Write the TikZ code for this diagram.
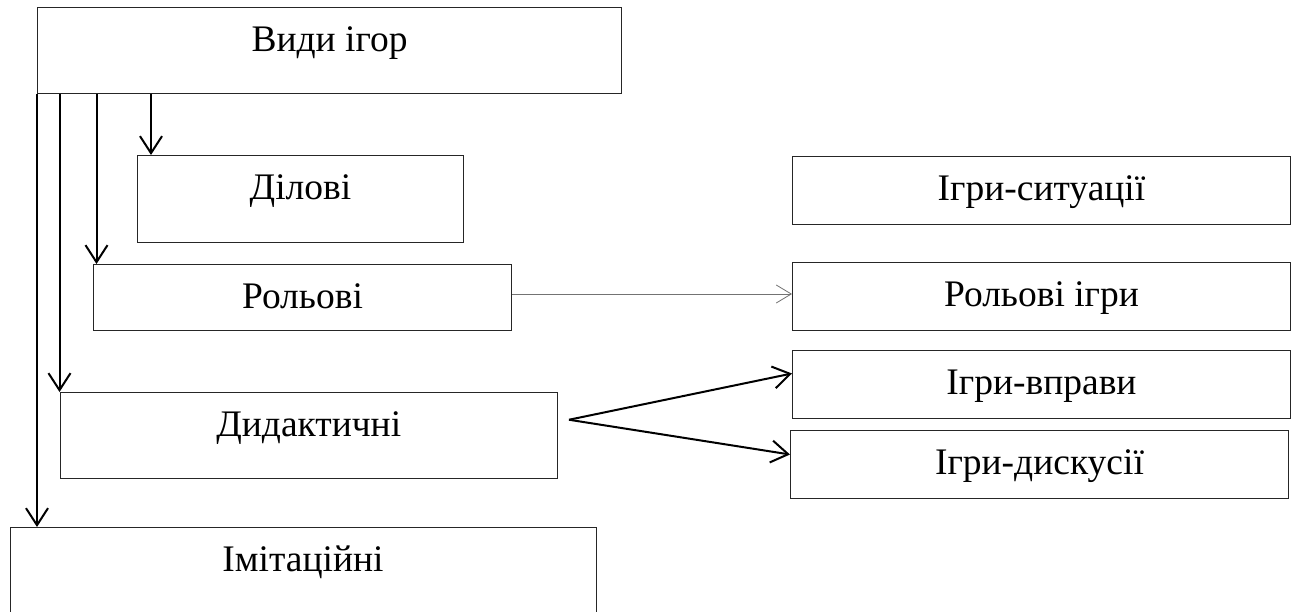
\documentclass[tikz,border=0pt]{standalone}
\usepackage{fontspec}
\setmainfont{Liberation Serif}
\usetikzlibrary{arrows.meta}
\begin{document}
\begin{tikzpicture}[x=1pt,y=1pt,
  box/.style={draw=black!85, line width=1pt, inner sep=0pt, text height=44pt,
    anchor=north west, font=\fontsize{37.5}{40}\selectfont},
  arr/.style={draw=black, line width=2pt,
    -{Straight Barb[length=17pt,width=22pt,line width=2pt]}},
  thinarr/.style={draw=black!55, line width=0.8pt,
    -{Straight Barb[length=15pt,width=18pt,line width=0.8pt]}}]
\useasboundingbox (0,0) rectangle (1298,-612);
% left column
\node[box, minimum width=584pt, text depth=42pt] (vidy) at (37,-7) {Види ігор};
\node[box, minimum width=326pt, text depth=43pt] (dil) at (137,-155) {Ділові};
\node[box, minimum width=418pt, text depth=22pt] (rol) at (93,-264) {Рольові};
\node[box, minimum width=497.5pt, text depth=41.5pt] (dyd) at (59.5,-392) {Дидактичні};
\node[box, minimum width=586pt, text depth=44pt] (imit) at (9.5,-527) {Імітаційні};
% right column
\node[box, minimum width=498pt, text depth=24pt] (sit) at (792,-156) {Ігри-ситуації};
\node[box, minimum width=498pt, text depth=24pt] (roli) at (792,-262) {Рольові ігри};
\node[box, minimum width=498pt, text depth=24pt] (vpr) at (792,-350) {Ігри-вправи};
\node[box, minimum width=498pt, text depth=24pt] (dys) at (790,-430) {Ігри-дискусії};
% vertical arrows from the top box
\coordinate (t1) at (vidy.south west |- imit.north);
\coordinate (t3) at ([xshift=3.5pt]rol.north west);
\coordinate (t4) at ([xshift=14pt]dil.north west);
\draw[arr] (vidy.south west) -- (t1);
\draw[arr] (dyd.north west |- vidy.south) -- (dyd.north west);
\draw[arr] (t3 |- vidy.south) -- (t3);
\draw[arr] (t4 |- vidy.south) -- (t4);
% horizontal arrows
\draw[thinarr] (rol.east |- 0,-294) -- (roli.west |- 0,-294);
\coordinate (d0) at ([xshift=11pt,yshift=15.5pt]dyd.east);
\draw[arr] (d0) -- ([yshift=11pt]vpr.west);
\draw[arr] (d0) -- ([yshift=10pt]dys.west);
\end{tikzpicture}
\end{document}
